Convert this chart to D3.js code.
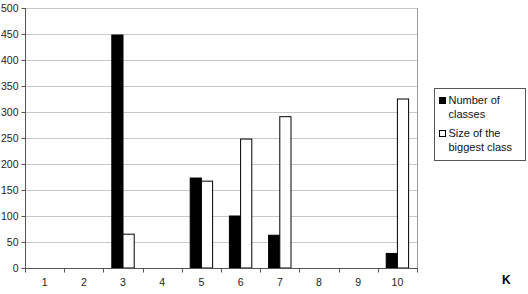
<!DOCTYPE html>
<html>
<head>
<meta charset="utf-8">
<script src="https://cdn.jsdelivr.net/npm/d3@7"></script>
<style>
  body { margin: 0; background: #fff; }
  text { font-family: "Liberation Sans", Arial, sans-serif; }
</style>
</head>
<body>
<div id="chart"></div>
<script>
// data
var categories = ["1", "2", "3", "4", "5", "6", "7", "8", "9", "10"];
var numberOfClasses = [null, null, 448, null, 173, 100, 63, null, null, 28];
var biggestClass = [null, null, 65, null, 167, 248, 291, null, null, 325];
var seriesNames = ["Number of classes", "Size of the biggest class"];
var seriesFill = ["#000", "#fff"];
var yTicks = [0, 50, 100, 150, 200, 250, 300, 350, 400, 450, 500];

var W = 528, H = 294;
var plot = {left: 25, right: 417, top: 8, bottom: 268};

var svg = d3.select("#chart").append("svg")
    .attr("width", W)
    .attr("height", H);

var x0 = d3.scaleBand().domain(categories).range([plot.left, plot.right]);
var x1 = d3.scaleBand().domain(seriesNames).range([0, x0.bandwidth()]).paddingOuter(0.75);
var y = d3.scaleLinear().domain([0, 500]).range([plot.bottom, plot.top]);

// gridlines
svg.append("g")
    .selectAll("line")
    .data(yTicks.filter(function (d) { return d > 0; }))
    .enter().append("line")
    .attr("x1", plot.left)
    .attr("x2", plot.right)
    .attr("y1", function (d) { return Math.round(y(d)) + 0.5; })
    .attr("y2", function (d) { return Math.round(y(d)) + 0.5; })
    .attr("stroke", "#c8c8c8")
    .attr("stroke-width", 1);

// plot area right border
svg.append("line")
    .attr("x1", plot.right + 0.5).attr("x2", plot.right + 0.5)
    .attr("y1", plot.top).attr("y2", plot.bottom)
    .attr("stroke", "#a0a0a0");

// bars
var rows = categories.map(function (c, i) {
    return {cat: c, values: [numberOfClasses[i], biggestClass[i]]};
});

var groups = svg.append("g").selectAll("g")
    .data(rows)
    .enter().append("g")
    .attr("transform", function (d) { return "translate(" + x0(d.cat) + ",0)"; });

groups.selectAll("rect")
    .data(function (d) {
        return d.values.map(function (v, j) { return {name: seriesNames[j], value: v, j: j}; })
            .filter(function (e) { return e.value != null; });
    })
    .enter().append("rect")
    .attr("x", function (d) { return x1(d.name); })
    .attr("width", x1.bandwidth())
    .attr("y", function (d) { return y(d.value); })
    .attr("height", function (d) { return y(0) - y(d.value); })
    .attr("fill", function (d) { return seriesFill[d.j]; })
    .attr("stroke", "#000")
    .attr("stroke-width", 1);

// y axis
var yAxis = svg.append("g")
    .attr("transform", "translate(" + (plot.left + 0.5) + ",0)")
    .call(d3.axisLeft(y).tickValues(yTicks).tickSize(4).tickPadding(3));
yAxis.select(".domain").attr("stroke", "#555").attr("d", "M0," + plot.top + "V" + plot.bottom);
yAxis.selectAll(".tick line").attr("stroke", "#555");
yAxis.selectAll("text").attr("font-size", "10.5px").attr("fill", "#222");

// x axis, ticks at category boundaries
var xAxis = svg.append("g")
    .attr("transform", "translate(0," + (plot.bottom + 0.5) + ")");
xAxis.append("line")
    .attr("x1", plot.left).attr("x2", plot.right + 1)
    .attr("stroke", "#555");
xAxis.selectAll(".xt")
    .data(categories.concat(["end"]))
    .enter().append("line")
    .attr("class", "xt")
    .attr("x1", function (d, i) { return Math.round(plot.left + i * x0.step()) + 0.5; })
    .attr("x2", function (d, i) { return Math.round(plot.left + i * x0.step()) + 0.5; })
    .attr("y1", 0).attr("y2", 4)
    .attr("stroke", "#555");
xAxis.selectAll("text")
    .data(categories)
    .enter().append("text")
    .attr("x", function (d) { return x0(d) + x0.bandwidth() / 2; })
    .attr("y", 17)
    .attr("text-anchor", "middle")
    .attr("font-size", "10.5px")
    .attr("fill", "#222")
    .text(function (d) { return d; });

svg.append("text")
    .attr("x", 502)
    .attr("y", 284)
    .attr("font-size", "12px")
    .attr("font-weight", "bold")
    .text("K");

// legend
var legend = svg.append("g").attr("transform", "translate(434.5,88.5)");
legend.append("rect")
    .attr("width", 91).attr("height", 72)
    .attr("fill", "#fff").attr("stroke", "#555");
var legendLines = [["Number of", "classes"], ["Size of the", "biggest class"]];
var item = legend.selectAll(".item")
    .data(legendLines)
    .enter().append("g")
    .attr("transform", function (d, i) { return "translate(0," + (i * 33) + ")"; });
item.append("rect")
    .attr("x", 5).attr("y", 9)
    .attr("width", 6).attr("height", 6)
    .attr("fill", function (d, i) { return seriesFill[i]; })
    .attr("stroke", "#000");
item.selectAll("text")
    .data(function (d) { return d; })
    .enter().append("text")
    .attr("x", 14)
    .attr("y", function (d, k) { return 15.5 + k * 14; })
    .attr("font-size", "11px")
    .attr("fill", "#111")
    .text(function (d) { return d; });
</script>
</body>
</html>
